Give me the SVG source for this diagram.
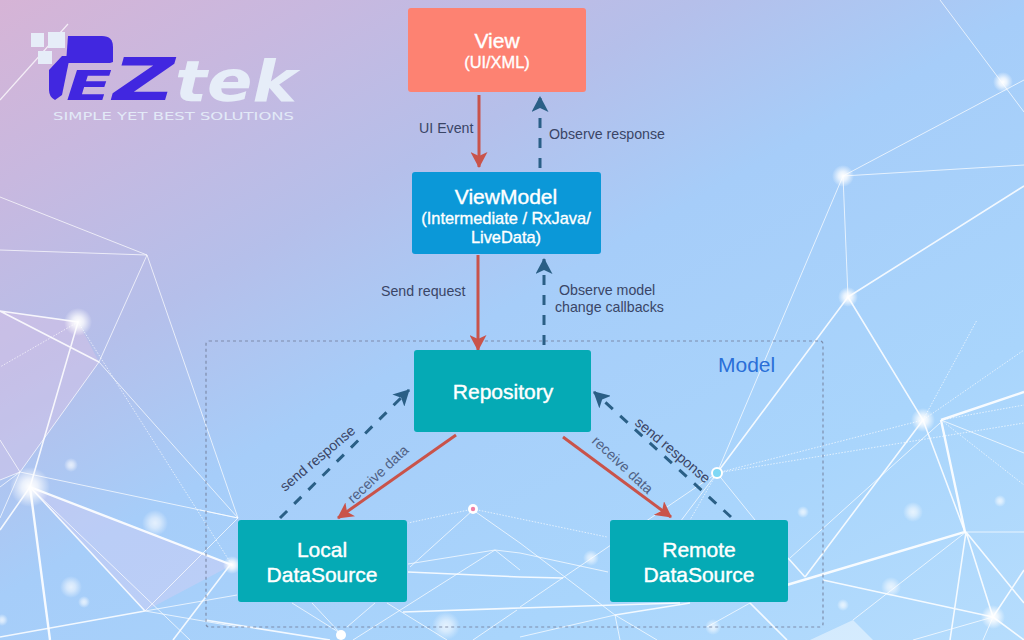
<svg xmlns="http://www.w3.org/2000/svg" width="1024" height="640" viewBox="0 0 1024 640">
<defs>
<linearGradient id="bg" gradientUnits="userSpaceOnUse" x1="0" y1="0" x2="570" y2="1000">
<stop offset="0" stop-color="#d6b4d6"/><stop offset="0.14" stop-color="#c8b8df"/><stop offset="0.3" stop-color="#b5bfea"/><stop offset="0.45" stop-color="#a6cdf9"/><stop offset="0.7" stop-color="#a9d5fc"/><stop offset="1" stop-color="#badffd"/>
</linearGradient>
<radialGradient id="glow"><stop offset="0" stop-color="#fff" stop-opacity="1"/><stop offset="0.4" stop-color="#fff" stop-opacity="0.75"/><stop offset="1" stop-color="#fff" stop-opacity="0"/></radialGradient>
<marker id="red" viewBox="0 0 16 17" refX="15" refY="8.5" markerWidth="16" markerHeight="17" markerUnits="userSpaceOnUse" orient="auto"><path d="M0 0L16 8.5L0 17L4 8.5Z" fill="#c9534a"/></marker>
<marker id="navy" viewBox="0 0 16 17" refX="15" refY="8.5" markerWidth="16" markerHeight="17" markerUnits="userSpaceOnUse" orient="auto"><path d="M0 0L16 8.5L0 17L4 8.5Z" fill="#2a5f86"/></marker>
</defs>
<style>
.w1{stroke:#fff;stroke-width:1;opacity:.7;fill:none}
.w2{stroke:#fff;stroke-width:1.6;opacity:.85;fill:none}
.w3{stroke:#fff;stroke-width:2.4;opacity:.9;fill:none}
.dot{stroke:#fff;stroke-width:1;stroke-dasharray:1.5 1.5;opacity:.65;fill:none}
.g{fill:url(#glow)}
.s{opacity:.7}
.t{font-family:"Liberation Sans",Arial,sans-serif;fill:#fff;stroke:#fff;stroke-width:.4;text-anchor:middle;font-size:21px}
.u{font-size:16.4px;stroke-width:.35}
.l{font-family:"Liberation Sans",Arial,sans-serif;fill:#3a4566;font-size:14.2px}
.m{font-family:"DejaVu Sans",sans-serif;font-weight:700;font-style:italic}
.red{stroke:#c9534a;stroke-width:3;fill:none;marker-end:url(#red)}
.navy{stroke:#2a5f86;stroke-width:3;fill:none;stroke-dasharray:10 10;marker-end:url(#navy)}
</style>
<rect width="1024" height="640" fill="url(#bg)"/>
<g id="network">
<polygon points="0,311 78,322 99,362 20,472 0,480" fill="#e3c3e6" opacity=".35"/>
<polygon points="30,487 232,565 145,611" fill="#d9cdf3" opacity=".4"/>
<polygon points="810,640 853,620 873,640" fill="#fff" opacity=".45"/>
<path d="M68 24L0 100" stroke="#fff" stroke-width="1.2" opacity=".75" fill="none"/>
<path class="w1" d="M0 197L147 255L0 250M147 255L99 362L20 472L0 518M147 255L238 518M99 362L238 518M145 611L238 518M145 611L237 595M145 611L238 627M30 487L190 640M20 472L238 518M0 440L20 472L0 480M20 472L0 487"/>
<path class="w2" d="M0 311L78 322L30 487M0 311L99 362M30 487L145 611M145 611L0 637M30 487L0 530M230 565L173 640"/>
<path class="w3" d="M30 487L232 565M30 487L50 640"/>
<path class="dot" d="M78 322L232 565M78 322L0 367"/>
<path class="w1" d="M940 0L1024 112M843 176L1024 80M843 176L1024 165M843 176L848 297M843 176L717 473"/>
<path class="w2" d="M848 297L1024 186M848 297L717 473"/>
<path class="w2" d="M848 297L923 420L965 532M923 420L805 577M966 532L1024 603M966 532L950 640M993 617L1024 570M993 617L1024 640M966 532L993 617M805 577L788 558M823 580L993 617"/>
<path class="w3" d="M941 420L1024 392M941 420L965 532L780 587"/>
<path class="w1" d="M941 420L1024 453M966 532L1024 532M993 617L983 640M940 423L790 558M966 532L853 620M993 617L913 640"/>
<path class="dot" d="M923 420L717 473M923 420L977 320M923 420L1024 350M941 420L1024 405M941 420L1024 485"/>
<path class="w1" d="M717 473L755 520M717 473L608 547L520 607M717 473L680 522M473 510L410 567M473 510L520 543L615 615M520 553L608 572"/>
<path class="dot" d="M473 509L408 523M473 509L607 537M717 473L1024 423M717 473L690 520"/>
<path class="w1" d="M408 564L495 550L520 553M495 550L353 640M495 550L520 570M292 603L340 633M312 603L340 633M375 603L347 627M387 603L447 640M517 610L473 640M615 615L620 640M750 603L707 627M520 637L615 615L657 640M200 510L238 518"/>
<path class="w2" d="M408 572L520 577L563 578M403 612L520 608L680 603M750 603L787 640M205 620L330 640M615 615L690 603"/>
<circle class="g" cx="78" cy="322" r="14"/>
<circle class="g" cx="30" cy="487" r="20"/>
<circle class="g s" cx="71" cy="465" r="7"/>
<circle class="g s" cx="155" cy="523" r="13"/>
<circle class="g s" cx="71" cy="587" r="11"/>
<circle class="g s" cx="84" cy="602" r="6"/>
<circle class="g s" cx="2" cy="620" r="6"/>
<circle class="g" cx="232" cy="565" r="9"/>
<circle class="g" cx="1003" cy="82" r="10"/>
<circle class="g" cx="843" cy="176" r="11"/>
<circle class="g" cx="848" cy="297" r="10"/>
<circle class="g" cx="923" cy="420" r="12"/>
<circle class="g" cx="993" cy="617" r="12"/>
<circle class="g s" cx="803" cy="512" r="6"/>
<circle class="g s" cx="913" cy="512" r="10"/>
<circle class="g s" cx="1000" cy="501" r="6"/>
<circle class="g s" cx="891" cy="587" r="10"/>
<circle class="g s" cx="843" cy="605" r="6"/>
<circle class="g s" cx="591" cy="558" r="8"/>
<circle class="g s" cx="446" cy="626" r="14"/>
<circle class="g s" cx="713" cy="627" r="8"/>
<circle cx="341" cy="635" r="5" fill="#fff"/>
<circle cx="473" cy="509" r="5" fill="#fff"/><circle cx="473" cy="509" r="2.2" fill="#ef7fa6"/>
<circle cx="717" cy="473" r="6" fill="#fff"/><circle cx="717" cy="473" r="4" fill="#7fd8f5"/>
</g>
<g id="logo">
<path d="M68 36H102Q113 36 113 47V62L110 63H66Z" fill="#4127e0"/>
<path d="M62 56H70L62 95L55 100Q49 97 49 90V70Z" fill="#4127e0"/>
<text class="m" x="66" y="100" font-size="40" textLength="46" lengthAdjust="spacingAndGlyphs" fill="#4127e0">E</text>
<text class="m" x="113" y="100" font-size="59" textLength="62" lengthAdjust="spacingAndGlyphs" fill="#4127e0">Z</text>
<text class="m" x="175" y="101" font-size="57" textLength="122" lengthAdjust="spacingAndGlyphs" fill="#e6edf8">tek</text>
<text x="53" y="120" font-family="'DejaVu Sans',sans-serif" font-size="9.6" textLength="241" lengthAdjust="spacingAndGlyphs" fill="#e2e9f7">SIMPLE YET BEST SOLUTIONS</text>
<rect x="31" y="33" width="13" height="14" fill="#e6edf8"/><rect x="48" y="32" width="17" height="16" fill="#e6edf8"/><rect x="38" y="51" width="14" height="13" fill="#e6edf8"/>
</g>
<g id="connectors">
<rect x="206" y="341" width="617" height="286" rx="3" fill="none" stroke="#75839f" stroke-width="1.2" stroke-dasharray="3 3" opacity=".85"/>
<path class="red" d="M479 95V167"/>
<path class="navy" d="M540 168V97"/>
<path class="red" d="M478 255V350"/>
<path class="navy" d="M544 345V259"/>
<path class="navy" d="M280 518L409 390"/>
<path class="red" d="M456 435L338 518"/>
<path class="navy" d="M731 517L594 392"/>
<path class="red" d="M563 437L671 517"/>
</g>
<g id="view"><rect x="408" y="8" width="178" height="84" rx="3" fill="#fd8272"/>
<text class="t" x="497" y="48">View</text><text class="t u" x="497" y="68">(UI/XML)</text></g>
<g id="viewmodel"><rect x="412" y="172" width="189" height="82" rx="3" fill="#0b98d8"/>
<text class="t" x="506" y="204">ViewModel</text><text class="t u" x="506" y="224">(Intermediate / RxJava/</text><text class="t u" x="506" y="243">LiveData)</text></g>
<g id="repository"><rect x="414" y="350" width="177" height="82" rx="3" fill="#05aab5"/>
<text class="t" x="503" y="399">Repository</text></g>
<g id="local"><rect x="238" y="520" width="169" height="82" rx="3" fill="#05aab5"/>
<text class="t" x="322" y="557">Local</text><text class="t" x="322" y="582">DataSource</text></g>
<g id="remote"><rect x="610" y="520" width="178" height="82" rx="3" fill="#05aab5"/>
<text class="t" x="699" y="557">Remote</text><text class="t" x="699" y="582">DataSource</text></g>
<g id="labels">
<text class="l" x="419" y="133">UI Event</text>
<text class="l" x="549" y="139">Observe response</text>
<text class="l" x="381" y="296">Send request</text>
<text class="l" x="559" y="295">Observe model</text>
<text class="l" x="555" y="312">change callbacks</text>
<text x="718" y="372" font-family="'Liberation Sans',sans-serif" font-size="21" fill="#2a6fd8">Model</text>
<text class="l" transform="translate(285 492) rotate(-40)">send response</text>
<text class="l" transform="translate(353 504) rotate(-43)" opacity=".8">receive data</text>
<text class="l" transform="translate(634 424) rotate(40)">send response</text>
<text class="l" transform="translate(591 442) rotate(43)" opacity=".8">receive data</text>
</g>
</svg>
